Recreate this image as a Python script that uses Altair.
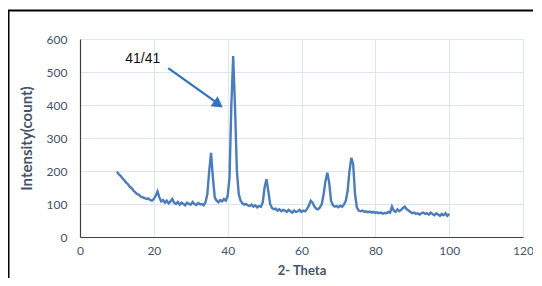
import altair as alt
import pandas as pd

theta_start = 10.0
theta_step = 0.5
intensity = [
    198, 190, 185, 178, 172, 165, 160, 152, 148, 140,
    135, 130, 128, 122, 120, 118, 115, 117, 112, 110,
    115, 125, 138, 120, 108, 112, 104, 110, 102, 108,
    115, 104, 100, 106, 98, 104, 100, 96, 104, 100,
    98, 106, 100, 97, 103, 99, 100, 96, 105, 130,
    200, 255, 180, 120, 110, 105, 112, 108, 115, 110,
    125, 180, 400, 548, 390, 200, 130, 110, 102, 98,
    100, 96, 94, 98, 92, 96, 90, 94, 92, 105,
    150, 175, 140, 100, 88, 84, 86, 80, 84, 78,
    82, 80, 76, 82, 78, 74, 80, 76, 78, 82,
    76, 80, 78, 85, 95, 110, 104, 92, 86, 84,
    90, 100, 130, 170, 195, 165, 110, 96, 92, 94,
    90, 95, 92, 98, 110, 140, 200, 240, 220, 130,
    90, 80, 78, 80, 76, 78, 75, 77, 74, 76,
    73, 75, 72, 74, 71, 73, 72, 76, 74, 92,
    80, 76, 84, 78, 82, 88, 92, 84, 80, 76,
    72, 74, 70, 72, 68, 72, 74, 70, 72, 68,
    74, 70, 66, 72, 68, 64, 70, 66, 72, 64,
    70,
]
theta = [theta_start + theta_step * i for i in range(len(intensity))]
x_ticks = [0, 20, 40, 60, 80, 100, 120]
y_ticks = [0, 100, 200, 300, 400, 500, 600]

annot_text = ["41/41"]
annot_x = [17.0]
annot_y = [540]
arrow_x = [23.9]
arrow_y = [512]
arrow_x2 = [37.4]
arrow_y2 = [404]
head_x = [37.5]
head_y = [402]

df = pd.DataFrame({"theta": theta, "intensity": intensity})
ann = pd.DataFrame({"t": annot_text, "x": annot_x, "y": annot_y})
arr = pd.DataFrame({"x": arrow_x, "y": arrow_y, "x2": arrow_x2, "y2": arrow_y2})
head = pd.DataFrame({"x": head_x, "y": head_y})

W, H = 443, 198
xs = alt.Scale(domain=[0, 120], nice=False)
ys = alt.Scale(domain=[0, 600], nice=False)

x_axis = alt.Axis(title="2- Theta", values=x_ticks, labelOverlap=False, labelFlush=False,
                  titleFontSize=13, titleFontWeight="bold", titleColor="#44546A",
                  titlePadding=8, labelPadding=8)
y_axis = alt.Axis(title="Intensity(count)", values=y_ticks, labelOverlap=False, labelFlush=False,
                  titleFontSize=15, titleFontWeight="bold", titleColor="#44546A",
                  titlePadding=12, labelPadding=13)

line = alt.Chart(df).mark_line(color="#4A7DBA", strokeWidth=2.4).encode(
    x=alt.X("theta:Q", scale=xs, axis=x_axis),
    y=alt.Y("intensity:Q", scale=ys, axis=y_axis),
)

text = alt.Chart(ann).mark_text(fontSize=14, color="#111111", font="Liberation Sans").encode(
    x=alt.X("x:Q", scale=xs, axis=x_axis), y=alt.Y("y:Q", scale=ys, axis=y_axis), text="t:N"
)

arrow_line = alt.Chart(arr).mark_rule(color="#2F72BF", strokeWidth=2.2).encode(
    x=alt.X("x:Q", scale=xs, axis=x_axis), y=alt.Y("y:Q", scale=ys, axis=y_axis), x2="x2:Q", y2="y2:Q"
)

arrow_head = alt.Chart(head).mark_point(
    shape="triangle-up", filled=True, color="#2F72BF", size=150, angle=125, opacity=1
).encode(x=alt.X("x:Q", scale=xs, axis=x_axis), y=alt.Y("y:Q", scale=ys, axis=y_axis))

frame_left = alt.Chart(head).mark_rule(color="#000000", strokeWidth=2).encode(
    x=alt.value(-71.5), y=alt.value(-29), y2=alt.value(300)
)
frame_top = alt.Chart(head).mark_rule(color="#000000", strokeWidth=2).encode(
    x=alt.value(-72.5), x2=alt.value(600), y=alt.value(-28.5)
)

chart = alt.layer(line, text, arrow_line, arrow_head, frame_left, frame_top).properties(
    width=W, height=H,
    autosize=alt.AutoSizeParams(type="none"),
    padding={"left": 72, "top": 31, "right": 10, "bottom": 41},
    background="white",
).configure_view(stroke=None).configure_axis(
    grid=True, gridColor="#DCE6F2", gridWidth=1,
    domainColor="#404040", domainWidth=1.2, ticks=False,
    labelColor="#44546A", labelFontSize=12, labelFont="Lato", titleFont="Lato",
)

chart.save("out.html", embed_options={"renderer": "svg", "actions": False})
